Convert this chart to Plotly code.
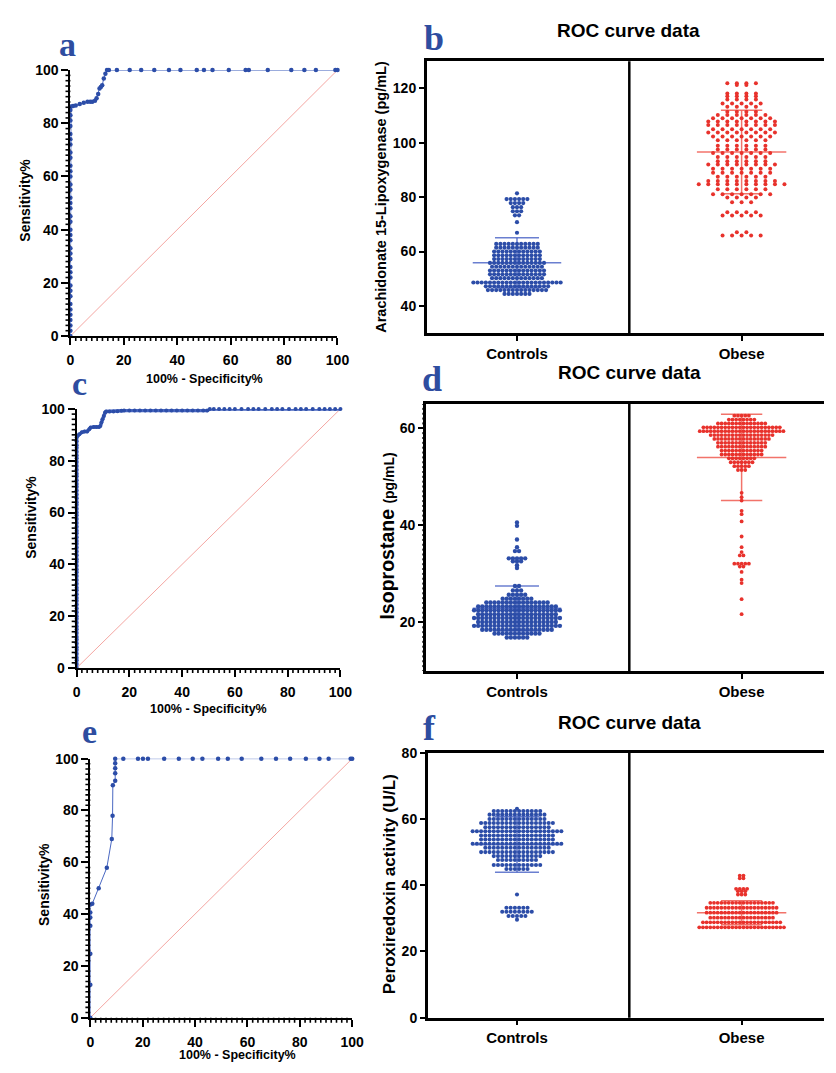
import plotly.graph_objects as go

W, H = 836, 1073

# ---------------- ROC data (panel a) ----------------
roc_a_vert_y = [0, 2, 4, 6, 8, 10, 12, 15, 17, 19, 22, 24, 26, 29, 31, 33, 36, 38, 40,
                43, 45, 48, 50, 52, 55, 57, 60, 62, 64, 67, 69, 72, 74, 76, 79, 81, 83, 85]
roc_a_x = [0.2, 1.0, 2.0, 3.5, 5.0, 6.4, 7.4, 8.2, 9.2, 9.8, 10.4, 10.9, 11.4, 11.9, 12.5, 13.1,
           13.7, 14.4, 17.4, 22.2, 26.5, 31.4, 36.9, 41.2, 47.3, 50.0, 53.2, 59.3, 65.6, 66.8,
           73.9, 82.7, 87.6, 91.9, 99.2, 100]
roc_a_y = [86.3, 86.5, 86.7, 87.2, 87.7, 88.1, 88.1, 88.1, 88.5, 89.4, 91.0, 93.1, 93.6, 94.3, 96.8, 98.6,
           100, 100, 100, 100, 100, 100, 100, 100, 100, 100, 100, 100, 100, 100,
           100, 100, 100, 100, 100, 100]

# ---------------- ROC data (panel c) ----------------
roc_c_vert_y = [0, 1.5, 3, 4, 5.5, 7, 8, 9.5, 11, 12, 13.5, 15, 16, 17.5, 19, 20, 21.5, 23, 24.5,
                26, 27, 28.5, 30, 31, 32.5, 34, 35.5, 37, 38, 39.5, 41, 42, 43.5, 45, 46.5, 48,
                49, 50.5, 52, 53, 54.5, 56, 57.5, 59, 60, 61.5, 63, 64, 65.5, 67, 68.5, 70, 71,
                72.5, 74, 75, 76.5, 78, 79.5, 81, 82, 83.5, 85, 86, 87.5, 89]
roc_c_x = [0.4, 1.0, 2.0, 3.0, 4.0, 4.8, 5.3, 6.5, 7.5, 8.5, 9.0, 9.4, 9.8, 10.3, 10.8, 11.2,
           12.5, 14, 15.5, 17,
           18, 20, 22, 24, 26, 28, 30, 32, 34, 36, 38, 40, 42, 44, 46, 48, 49.5,
           50.5, 52, 54, 56, 58, 60, 62.5, 65, 67, 69, 71.5, 74, 76, 78, 80.5, 83, 85, 87,
           89.5, 92, 94, 96, 98, 100]
roc_c_y = [89.6, 90.2, 91.0, 91.3, 91.3, 92.2, 92.8, 93.0, 93.0, 93.0, 93.4, 94.8, 96.0, 97.3, 98.6, 99.0,
           99.0, 99.0, 99.1, 99.3,
           99.4, 99.4, 99.4, 99.4, 99.4, 99.4, 99.4, 99.4, 99.4, 99.4, 99.4, 99.4, 99.4, 99.4, 99.4, 99.4, 99.4,
           100, 100, 100, 100, 100, 100, 100, 100, 100, 100, 100, 100, 100, 100, 100, 100, 100, 100,
           100, 100, 100, 100, 100, 100]

# ---------------- ROC data (panel e) ----------------
roc_e_vert_y = [0, 12.7, 24.7, 35.5, 38.7, 40.6, 43.7]
roc_e_x = [0.75, 3.2, 6.3, 8.2, 8.5, 8.6, 9.5, 9.5, 9.5, 9.5, 9.5,
           12.6, 18.2, 20.1, 22.0, 28.2, 33.8, 39.1, 42.8, 48.8, 52.5, 57.8, 65.3, 70.9,
           76.3, 82.3, 87.5, 91.0, 99.4, 100]
roc_e_y = [44, 50, 57.9, 69, 78, 89.7, 91.5, 94.4, 96.3, 98.2, 100,
           100, 100, 100, 100, 100, 100, 100, 100, 100, 100, 100, 100, 100,
           100, 100, 100, 100, 100, 100]

diag_x = [0, 100]
diag_y = [0, 100]

categories = ["Controls", "Obese"]

# ---------------- Dot plot data (panel b) ----------------
b_ctrl_vals = [81.4, 79.3, 77.8, 76.3, 74.8, 73.3, 70.8, 66.9, 62.8, 61.4, 60.0, 58.6, 57.2, 55.8,
               54.4, 53.0, 51.6, 50.2, 48.6, 47.2, 45.8, 44.4]
b_ctrl_cnts = [1, 6, 4, 3, 3, 2, 1, 1, 11, 11, 12, 12, 12, 14, 13, 14, 14, 13, 22, 16, 15, 7]
b_obese_vals = [121.9, 121.2, 118.1, 117.1, 115.9, 114.4, 113.2, 111.4, 110.2, 109.0, 107.8, 106.5,
                105.0, 103.8, 102.3, 100.9, 98.9, 97.5, 96.2, 94.8, 93.2, 92.0, 90.4, 89.0, 87.5,
                85.9, 84.7, 82.9, 81.1, 79.9, 78.1, 74.4, 73.2, 67.1, 65.9]
b_obese_cnts = [4, 2, 4, 4, 4, 5, 4, 4, 6, 7, 8, 8, 7, 8, 7, 6, 6, 6, 7, 6, 6, 8, 7, 7, 6,
                8, 10, 6, 7, 4, 3, 4, 5, 2, 5]
b_mean = [55.9, 96.6]
b_sd = [9.2, 15.4]

# ---------------- Dot plot data (panel d) ----------------
d_ctrl_vals = [40.6, 39.9, 37.1, 35.5, 34.7, 33.2, 32.6, 31.8, 31.2, 27.5, 26.6, 25.7, 24.9, 24.1,
               23.3, 22.5, 21.7, 20.9, 20.1, 19.3, 18.5, 17.7, 16.9]
d_ctrl_cnts = [1, 1, 1, 1, 2, 5, 3, 1, 1, 2, 3, 5, 8, 16, 20, 22, 20, 22, 20, 22, 18, 12, 6]
d_obese_vals = [62.6, 61.8, 61.0, 60.2, 59.4, 58.6, 57.8, 57.0, 56.2, 55.4, 54.6, 53.8, 53.0, 52.2,
                51.4, 46.7, 45.8, 45.1, 43.0, 42.3, 40.8, 37.7, 35.5, 34.5, 33.8, 32.1, 31.5,
                30.4, 28.8, 28.1, 24.8, 21.7]
d_obese_cnts = [5, 8, 14, 22, 24, 18, 16, 14, 14, 12, 12, 8, 7, 5, 3, 1, 1, 1, 1, 1, 1, 1, 1, 1,
                2, 5, 2, 1, 1, 1, 1, 1]
d_mean = [22.9, 54.0]
d_sd = [4.6, 8.9]

# ---------------- Dot plot data (panel f) ----------------
f_ctrl_vals = [63.1, 62.4, 61.3, 60.0, 58.8, 57.5, 56.3, 55.0, 53.8, 52.5, 51.3, 50.0, 48.8, 47.6,
               46.1, 44.9, 37.2, 33.2, 32.0, 30.7, 29.6]
f_ctrl_cnts = [1, 12, 14, 14, 18, 16, 22, 18, 18, 22, 16, 18, 12, 10, 12, 6, 1, 6, 8, 5, 1]
f_obese_vals = [42.9, 42.1, 38.9, 38.2, 37.2, 34.7, 33.2, 31.7, 30.2, 28.8, 27.3]
f_obese_cnts = [2, 2, 4, 3, 3, 18, 20, 20, 18, 22, 24]
f_mean = [52.3, 31.7]
f_sd = [8.4, 3.6]

BLUE = "#2C4DA8"
BLUE_LINE = "#4A68C2"
RED = "#E8322C"
LABEL_BLUE = "#2E4DA0"
FONT = "Liberation Sans, Arial, sans-serif"


def dom_x(l, r):
    return [l / W, r / W]


def dom_y(t, b):
    return [1 - b / H, 1 - t / H]


def swarm(vals, cnts, center, spacing):
    xs, ys = [], []
    for v, c in zip(vals, cnts):
        for i in range(c):
            xs.append(center + (i - (c - 1) / 2) * spacing)
            ys.append(v)
    return xs, ys


def mean_sd_trace(center, m, s, half_w, cap_w, color, xa, ya):
    xs = [center - half_w, center + half_w, None,
          center, center, None,
          center - cap_w, center + cap_w, None,
          center - cap_w, center + cap_w]
    ys = [m, m, None, m - s, m + s, None, m + s, m + s, None, m - s, m - s]
    return go.Scatter(x=xs, y=ys, mode="lines", line=dict(color=color, width=1.5),
                      xaxis=xa, yaxis=ya, hoverinfo="skip")


fig = go.Figure()

# ROC panels
roc_specs = [
    ("x", "y", roc_a_vert_y, roc_a_x, roc_a_y, 1.0, 4.5),
    ("x3", "y3", roc_c_vert_y, roc_c_x, roc_c_y, 3.5, 4),
    ("x5", "y5", roc_e_vert_y, roc_e_x, roc_e_y, 1.0, 4.5),
]
for xa, ya, vy, cx, cy, lw, ms in roc_specs:
    fig.add_trace(go.Scatter(x=diag_x, y=diag_y, mode="lines",
                             line=dict(color="#F4A6A2", width=1), xaxis=xa, yaxis=ya,
                             cliponaxis=False, hoverinfo="skip"))
    xs = [0.0 for _ in vy] + cx
    ys = vy + cy
    fig.add_trace(go.Scatter(x=xs, y=ys, mode="lines+markers",
                             line=dict(color=BLUE_LINE, width=lw),
                             marker=dict(color=BLUE, size=ms),
                             xaxis=xa, yaxis=ya, cliponaxis=False))

# Dot plot panels
dot_specs = [
    ("x2", "y2", b_ctrl_vals, b_ctrl_cnts, b_obese_vals, b_obese_cnts, b_mean, b_sd,
     0.0185, 0.0424, 4.2, 4.0),
    ("x4", "y4", d_ctrl_vals, d_ctrl_cnts, d_obese_vals, d_obese_cnts, d_mean, d_sd,
     0.0182, 0.0162, 4.4, 3.8),
    ("x6", "y6", f_ctrl_vals, f_ctrl_cnts, f_obese_vals, f_obese_cnts, f_mean, f_sd,
     0.0188, 0.0164, 4.1, 3.8),
]
for xa, ya, cv, cc, ov, oc, mn, sd, sp_c, sp_o, ms_c, ms_o in dot_specs:
    fig.add_trace(mean_sd_trace(0, mn[0], sd[0], 0.197, 0.098, "rgba(80,105,200,0.85)", xa, ya))
    fig.add_trace(mean_sd_trace(1, mn[1], sd[1], 0.199, 0.092, "rgba(240,90,80,0.85)", xa, ya))
    x0, y0 = swarm(cv, cc, 0, sp_c)
    x1, y1 = swarm(ov, oc, 1, sp_o)
    fig.add_trace(go.Scatter(x=x0, y=y0, mode="markers",
                             marker=dict(color=BLUE, size=ms_c), xaxis=xa, yaxis=ya))
    fig.add_trace(go.Scatter(x=x1, y=y1, mode="markers",
                             marker=dict(color=RED, size=ms_o), xaxis=xa, yaxis=ya))

tickfont = dict(family=FONT, size=14, color="black", weight="bold")
catfont = dict(family=FONT, size=15, color="black", weight="bold")


def roc_axis(domain, anchor, standoff=None):
    d = dict(domain=domain, anchor=anchor, range=[0, 100], showline=True, linewidth=2,
             linecolor="black", ticks="outside", ticklen=7, tickwidth=2, tickcolor="black",
             tickmode="linear", tick0=0, dtick=20, showgrid=False, zeroline=False,
             tickfont=tickfont)
    if standoff is not None:
        d["ticklabelstandoff"] = standoff
    return d


def cat_x(domain, anchor, right_px, left_px):
    per = (752 - 523)
    lo = -(523 - left_px) / per
    hi = (right_px - 523) / per
    return dict(domain=domain, anchor=anchor, range=[lo, hi], showline=True, mirror=True,
                linewidth=2.5, linecolor="black", ticks="outside", ticklen=5, tickwidth=2,
                tickcolor="black", tickvals=[0, 1], ticktext=categories, showgrid=False,
                zeroline=False, tickfont=catfont)


def val_y(domain, anchor, rng, dt):
    return dict(domain=domain, anchor=anchor, range=rng, showline=True, linewidth=2.5,
                linecolor="black", ticks="outside", ticklen=5, tickwidth=2, tickcolor="black",
                tickmode="linear", tick0=0, dtick=dt, showgrid=False, zeroline=False,
                tickfont=tickfont)


fig.update_layout(
    width=W, height=H, margin=dict(l=0, r=0, t=0, b=0),
    paper_bgcolor="white", plot_bgcolor="rgba(0,0,0,0)", showlegend=False,
    xaxis=roc_axis(dom_x(67.7, 340), "y", 3),
    yaxis=roc_axis(dom_y(63, 333), "x"),
    xaxis3=roc_axis(dom_x(74, 343), "y3", 3),
    yaxis3=roc_axis(dom_y(407, 670), "x3"),
    xaxis5=roc_axis(dom_x(88, 355), "y5", 3),
    yaxis5=roc_axis(dom_y(762, 1025), "x5"),
    xaxis2=cat_x(dom_x(431, 836), "y2", 836, 431),
    yaxis2=val_y(dom_y(54, 330), "x2", [30, 130], 20),
    xaxis4=cat_x(dom_x(430, 836), "y4", 836, 430),
    yaxis4=val_y(dom_y(402, 673), "x4", [10, 65], 20),
    xaxis6=cat_x(dom_x(432, 836), "y6", 836, 432),
    yaxis6=val_y(dom_y(756, 1025), "x6", [0, 80], 20),
)

# minor tick marks (axis decoration) drawn as short line shapes
minor_shapes = []


def minor_x_ticks(xref, bottom_px, lo, hi, step, length, width, color="black"):
    yb = 1 - bottom_px / H
    v = lo
    while v <= hi + 1e-9:
        if abs(v / 20 - round(v / 20)) > 1e-9:
            minor_shapes.append(dict(type="line", xref=xref, yref="paper", x0=v, x1=v,
                                     y0=yb, y1=yb - length / H, layer="above",
                                     line=dict(color=color, width=width)))
        v += step


def minor_y_ticks(yref, left_px, lo, hi, step, length, width, color="black"):
    xl = left_px / W
    v = lo
    while v <= hi + 1e-9:
        if abs(v / 20 - round(v / 20)) > 1e-9:
            minor_shapes.append(dict(type="line", xref="paper", yref=yref, x0=xl,
                                     x1=xl - length / W, y0=v, y1=v, layer="above",
                                     line=dict(color=color, width=width)))
        v += step


minor_x_ticks("x", 333, 0, 100, 2, 5, 1.6)
minor_y_ticks("y", 67.7, 0, 100, 2, 5, 1.6)
minor_x_ticks("x3", 670, 0, 100, 2, 5, 1.6)
minor_y_ticks("y3", 74, 0, 100, 2, 5, 1.6)
minor_x_ticks("x5", 1025, 0, 100, 2, 5, 1.6)
minor_y_ticks("y5", 88, 0, 100, 2, 5, 1.6)
minor_y_ticks("y4", 430, 10, 65, 1, 3.5, 2)

# divider lines in dot plots
for xr, yr in [("x2", "y2 domain"), ("x4", "y4 domain"), ("x6", "y6 domain")]:
    minor_shapes.append(dict(type="line", xref=xr, yref=yr, x0=0.5, x1=0.5, y0=0, y1=1,
                             line=dict(color="black", width=2.5)))

fig.update_layout(shapes=minor_shapes)


def ann(text, px, py, size, bold=True, angle=0, family=FONT, color="black"):
    fig.add_annotation(text=text, x=px / W, y=1 - py / H, xref="paper", yref="paper",
                       xanchor="center", yanchor="middle", showarrow=False, textangle=angle,
                       font=dict(family=family, size=size, color=color,
                                 weight="bold" if bold else "normal"))


SERIF = "Liberation Serif, Times New Roman, serif"
# panel letters
ann("a", 65, 37, 34, family=SERIF, color=LABEL_BLUE)
ann("b", 438, 30, 36, family=SERIF, color=LABEL_BLUE)
ann("c", 77, 381, 34, family=SERIF, color=LABEL_BLUE)
ann("d", 436, 377, 36, family=SERIF, color=LABEL_BLUE)
ann("e", 87, 734, 34, family=SERIF, color=LABEL_BLUE)
ann("f", 434, 731, 36, family=SERIF, color=LABEL_BLUE)

# titles
ann("ROC curve data", 637, 23, 19)
ann("ROC curve data", 638, 370, 19)
ann("ROC curve data", 638, 725, 19)

# ROC axis titles
ann("Sensitivity%", 21, 195, 14, angle=-90)
ann("100% - Specificity%", 204, 377, 12.5)
ann("Sensitivity%", 28, 517, 14, angle=-90)
ann("100% - Specificity%", 208, 712, 12.5)
ann("Sensitivity%", 40, 890, 14, angle=-90)
ann("100% - Specificity%", 238, 1063, 12.5)

# dot plot y titles
ann("Arachidonate 15-Lipoxygenase (pg/mL)", 385, 192, 14.5, angle=-90)
ann("Isoprostane <span style='font-size:14px'>(pg/mL)</span>", 390, 536, 19.5, angle=-90)
ann("Peroxiredoxin activity (U/L)", 393, 889, 17, angle=-90)

fig.write_html("out.html", config={"displayModeBar": False},
               post_script="document.body.style.margin='0';")
